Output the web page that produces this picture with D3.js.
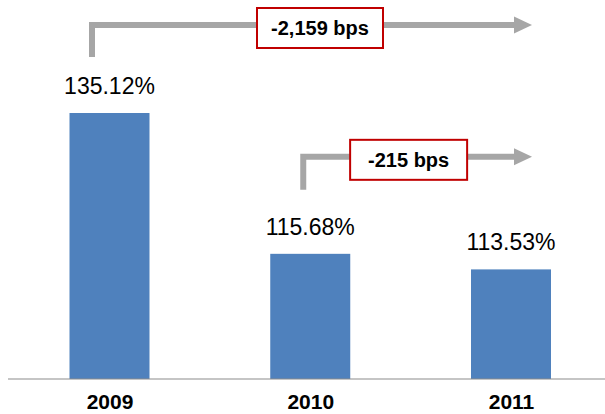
<!DOCTYPE html>
<html>
<head>
<meta charset="utf-8">
<script src="https://cdn.jsdelivr.net/npm/d3@7"></script>
<style>
  body { margin: 0; background: #fff; }
  svg { display: block; }
  text { font-family: "Liberation Sans", Arial, sans-serif; }
</style>
</head>
<body>
<svg id="chart" width="605" height="414"></svg>
<script>
var years = ["2009", "2010", "2011"];
var ratios = [135.12, 115.68, 113.53];
var changeFrom = ["2009", "2010"];
var changeLabels = ["-2,159 bps", "-215 bps"];

var width = 605, height = 414;
var baseY = 379;

var svg = d3.select("#chart");

var x = d3.scalePoint().domain(years).range([109.5, 511]);
var y = d3.scaleLinear().domain([98.4, 135.12]).range([baseY, 113]);
var barW = 80;

var data = years.map(function(d, i) { return {year: d, value: ratios[i]}; });

// bars
svg.selectAll(".bar")
  .data(data)
  .enter().append("rect")
  .attr("class", "bar")
  .attr("x", function(d) { return x(d.year) - barW / 2; })
  .attr("y", function(d) { return y(d.value); })
  .attr("width", barW)
  .attr("height", function(d) { return baseY - y(d.value); })
  .attr("fill", "#4f81bd");

// value labels
svg.selectAll(".val")
  .data(data)
  .enter().append("text")
  .attr("class", "val")
  .attr("x", function(d) { return x(d.year); })
  .attr("y", function(d) { return y(d.value) - 19; })
  .attr("text-anchor", "middle")
  .style("font-size", "23px")
  .attr("fill", "#000")
  .text(function(d) { return d.value.toFixed(2) + "%"; });

// x axis
var xAxis = d3.axisBottom(x).tickSize(0);
var gx = svg.append("g")
  .attr("transform", "translate(0," + baseY + ")")
  .call(xAxis);
gx.select(".domain").remove();
gx.append("line")
  .attr("x1", 8).attr("x2", width)
  .attr("stroke", "#8c8c8c").attr("stroke-width", 1.2);
gx.selectAll(".tick text")
  .attr("y", 30)
  .attr("dy", 0)
  .attr("fill", "#000")
  .style("font-family", "'Liberation Sans', Arial, sans-serif")
  .style("font-size", "21px")
  .style("font-weight", "bold");

// change arrows
var tipX = x(years[years.length - 1]) + 21;
var notes = changeFrom.map(function(d, i) {
  return {from: d, label: changeLabels[i], value: ratios[years.indexOf(d)]};
});
var layout = [
  {dx: -17.5, rise: 88, drop: 56, boxW: 126, boxShift: 17},
  {dx: -7, rise: 97, drop: 64, boxW: 117, boxShift: 0}
];

var gray = "#a6a6a6";
notes.forEach(function(n, i) {
  var L = layout[i];
  var sx = x(n.from) + L.dx;
  var top = y(n.value);
  var ly = top - L.rise;
  var ey = top - L.drop;
  var headL = 18, headH = 17;

  svg.append("path")
    .attr("d", "M" + sx + "," + ey + "V" + ly + "H" + (tipX - headL))
    .attr("fill", "none")
    .attr("stroke", gray)
    .attr("stroke-width", 6);
  svg.append("path")
    .attr("d", "M" + (tipX - headL) + "," + (ly - headH / 2) +
      "L" + tipX + "," + ly +
      "L" + (tipX - headL) + "," + (ly + headH / 2) + "Z")
    .attr("fill", gray);

  var cx = (sx + tipX - headL) / 2 + L.boxShift;
  var cy = ly + 3;
  svg.append("rect")
    .attr("x", cx - L.boxW / 2)
    .attr("y", cy - 20)
    .attr("width", L.boxW)
    .attr("height", 40)
    .attr("fill", "#fff")
    .attr("stroke", "#c00000")
    .attr("stroke-width", 2);
  svg.append("text")
    .attr("x", cx)
    .attr("y", cy + 7)
    .attr("text-anchor", "middle")
    .style("font-size", "20px")
    .style("font-weight", "bold")
    .attr("fill", "#000")
    .text(n.label);
});
</script>
</body>
</html>
